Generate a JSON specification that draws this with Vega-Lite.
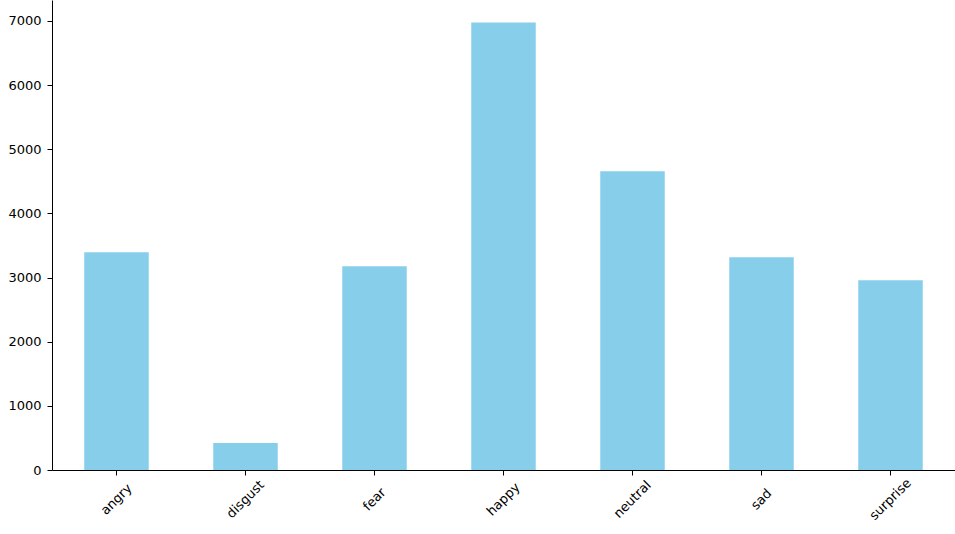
{
  "$schema": "https://vega.github.io/schema/vega-lite/v6.json",
  "autosize": {"type": "none"},
  "width": 903,
  "height": 470,
  "padding": {"left": 52, "top": 0, "right": 0, "bottom": 64},
  "background": "white",
  "config": {
    "view": {"stroke": null},
    "axis": {"grid": false, "domainColor": "black", "tickColor": "black", "labelColor": "black", "labelFont": "DejaVu Sans", "labelFontSize": 13, "tickSize": 5, "tickWidth": 1, "domainWidth": 1, "labelPadding": 5, "title": null}
  },
  "data": {"values": [
    {"emotion": "angry", "count": 3395},
    {"emotion": "disgust", "count": 420},
    {"emotion": "fear", "count": 3178},
    {"emotion": "happy", "count": 6978},
    {"emotion": "neutral", "count": 4657},
    {"emotion": "sad", "count": 3318},
    {"emotion": "surprise", "count": 2960}
  ]},
  "mark": {"type": "bar", "color": "#87CEEB"},
  "encoding": {
    "x": {"field": "emotion", "type": "nominal", "sort": null,
      "scale": {"paddingInner": 0.5, "paddingOuter": 0.25},
      "axis": {"labelAngle": -45, "labelAlign": "center", "labelBaseline": "middle", "labelPadding": 24}},
    "y": {"field": "count", "type": "quantitative",
      "scale": {"domain": [0, 7327], "nice": false},
      "axis": {"values": [0, 1000, 2000, 3000, 4000, 5000, 6000, 7000], "format": "d", "labelPadding": 6}}
  }
}
